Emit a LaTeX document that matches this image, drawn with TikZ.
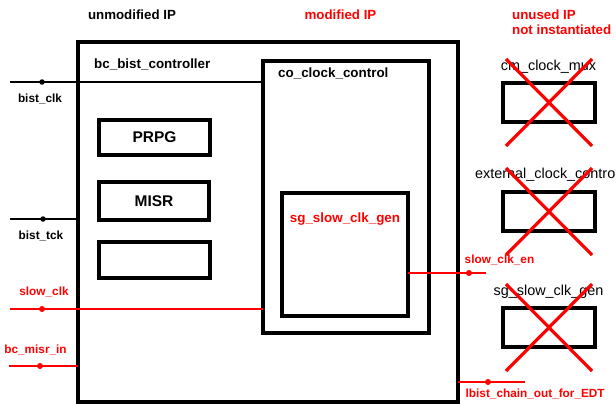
\documentclass[tikz,border=0pt]{standalone}
\usepackage{fontspec}
\setmainfont{Liberation Sans}
\definecolor{sigred}{RGB}{255,0,0}
\tikzset{
  thickbox/.style={draw=black, line width=4pt, fill=none, inner sep=0pt, outer sep=0pt},
  sig/.style={line width=1.3pt, black},
  rsig/.style={line width=1.8pt, sigred},
  dotb/.style={circle, fill=black, inner sep=0pt, minimum size=5.5pt},
  dotr/.style={circle, fill=sigred, inner sep=0pt, minimum size=6pt},
  cross/.style={line width=3.2pt, sigred},
  lbl/.style={inner sep=0pt, font=\fontsize{11.8}{13}\selectfont\bfseries},
  rlbl/.style={lbl, text=sigred},
  hdr/.style={inner sep=0pt, font=\fontsize{13.3}{15}\selectfont\bfseries},
  ttl/.style={inner sep=0pt, font=\fontsize{13.4}{15}\selectfont\bfseries},
  iplbl/.style={inner sep=0pt, font=\fontsize{14.4}{16}\selectfont},
  big/.style={font=\fontsize{15.5}{17}\selectfont\bfseries}
}
\begin{document}
\begin{tikzpicture}[x=1pt,y=-1pt]
\useasboundingbox (0,0) rectangle (616,404);
\fill[white] (0,0) rectangle (616,404);
\clip (0,0) rectangle (616,404);

% headers
\node[hdr] (hUnmod) at (132,15) {unmodified IP};
\node[hdr, text=sigred] (hMod) at (340.5,15) {modified IP};
\node[hdr, text=sigred, anchor=west] (hUnused) at (512,15) {unused IP};
\node[hdr, text=sigred, anchor=west] (hNot) at (512,30) {not instantiated};

% main boxes
\node[thickbox, minimum width=380pt, minimum height=359pt] (bc) at (267.5,222) {};
\node[thickbox, minimum width=166pt, minimum height=271pt] (co) at (345.5,197) {};
\node[thickbox, minimum width=126pt, minimum height=122.5pt] (sg) at (345,254.25) {};
\node[thickbox, big, minimum width=111pt, minimum height=35pt] (prpg) at (154.5,137.5) {PRPG};
\node[thickbox, big, minimum width=110pt, minimum height=38pt] (misr) at (154,201) {MISR};
\node[thickbox, minimum width=111pt, minimum height=36pt] (empty) at (154.5,260) {};

\node[ttl, anchor=west] (bcName) at (94,64.5) {bc\_bist\_controller};
\node[ttl, anchor=west] (coName) at (278,73.5) {co\_clock\_control};
\node[ttl, text=sigred] (sgName) at (345,219.5) {sg\_slow\_clk\_gen};

% left signals
\coordinate (clkIn) at (10,82);
\coordinate (clkDot) at (42,82);
\draw[sig] (clkIn) -- (clkIn -| co.west);
\node[dotb] (clkD) at (clkDot) {};
\node[lbl] (clkLbl) at (40,99) {bist\_clk};

\coordinate (tckIn) at (10,219);
\draw[sig] (tckIn) -- (tckIn -| bc.west);
\node[dotb] (tckD) at (43,219) {};
\node[lbl] (tckLbl) at (41,235.5) {bist\_tck};

\coordinate (scIn) at (10,309);
\draw[rsig] (scIn) -- (scIn -| co.west);
\node[dotr] (scD) at (42,309) {};
\node[rlbl] (scLbl) at (44,292) {slow\_clk};

\coordinate (misrIn) at (9,366);
\draw[rsig] (misrIn) -- (misrIn -| bc.west);
\node[dotr] (misrD) at (40,366) {};
\node[rlbl] (misrLbl) at (35.5,350) {bc\_misr\_in};

% right signals
\coordinate (enOut) at (486,273);
\draw[rsig] (enOut -| sg.east) -- (enOut);
\node[dotr] (enD) at (469,273) {};
\node[rlbl, anchor=west] (enLbl) at (464.5,260) {slow\_clk\_en};

\coordinate (edtOut) at (525,382);
\draw[rsig] (edtOut -| bc.east) -- (edtOut);
\node[dotr] (edtD) at (488,382) {};
\node[rlbl, anchor=west] (edtLbl) at (465.5,394) {lbist\_chain\_out\_for\_EDT};

% unused IP
\node[thickbox, minimum width=92pt, minimum height=39pt] (mux) at (549,102.5) {};
\node[iplbl] (muxLbl) at (548.5,67) {cm\_clock\_mux};
\draw[cross] ([shift={(-43,-43.5)}]mux.center) -- ([shift={(43,43.5)}]mux.center);
\draw[cross] ([shift={(43,-43.5)}]mux.center) -- ([shift={(-43,43.5)}]mux.center);

\node[thickbox, minimum width=92pt, minimum height=39pt] (ext) at (549,211.5) {};
\node[iplbl, anchor=west] (extLbl) at (475,175) {external\_clock\_control};
\draw[cross] ([shift={(-43,-43.5)}]ext.center) -- ([shift={(43,43.5)}]ext.center);
\draw[cross] ([shift={(43,-43.5)}]ext.center) -- ([shift={(-43,43.5)}]ext.center);

\node[thickbox, minimum width=92pt, minimum height=39pt] (sgu) at (549,327.5) {};
\node[iplbl] (sguLbl) at (548.5,292) {sg\_slow\_clk\_gen};
\draw[cross] ([shift={(-43,-43.5)}]sgu.center) -- ([shift={(43,43.5)}]sgu.center);
\draw[cross] ([shift={(43,-43.5)}]sgu.center) -- ([shift={(-43,43.5)}]sgu.center);
\end{tikzpicture}
\end{document}
